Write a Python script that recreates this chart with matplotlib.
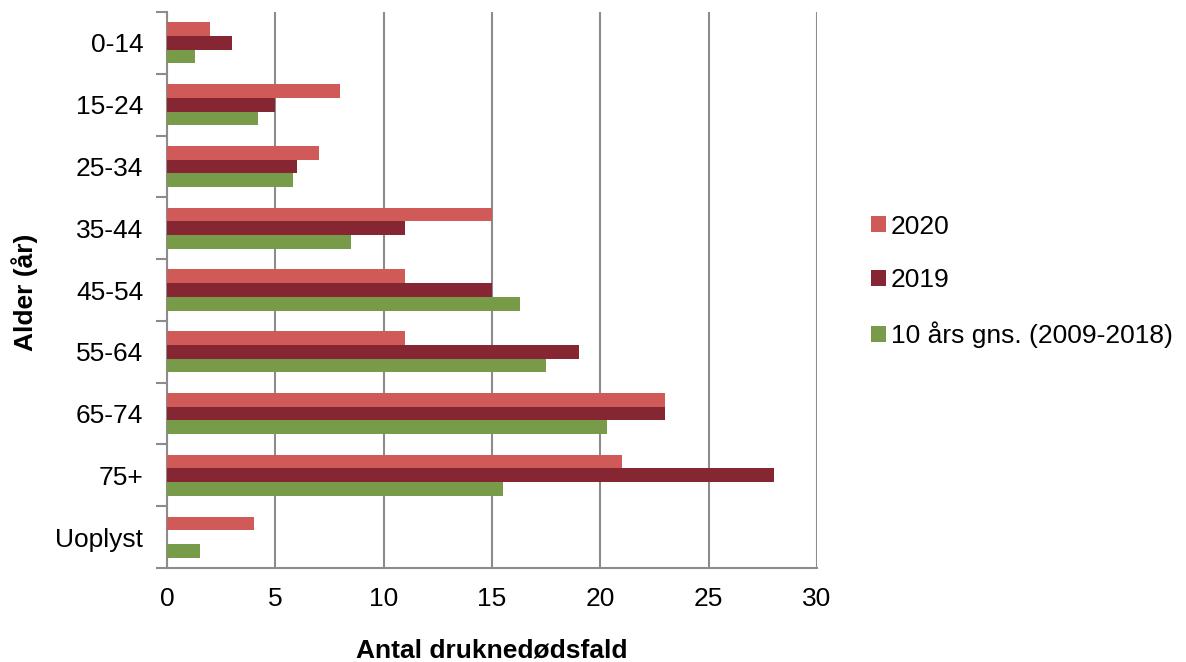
import numpy as np
import matplotlib.pyplot as plt

plt.rcParams['font.family'] = ['Liberation Sans', 'DejaVu Sans']

# data
aldersgrupper = ["0-14", "15-24", "25-34", "35-44", "45-54", "55-64", "65-74", "75+", "Uoplyst"]
v2020 = [2, 8, 7, 15, 11, 11, 23, 21, 4]
v2019 = [3, 5, 6, 11, 15, 19, 23, 28, 0]
gns_10aar = [1.3, 4.2, 5.8, 8.5, 16.3, 17.5, 20.3, 15.5, 1.5]
serie_navne = ["2020", "2019", "10 års gns. (2009-2018)"]
farver = ["#D05A57", "#862633", "#779B48"]

fs = 19
grid_col = "#8C8C8C"

fig = plt.figure(figsize=(11.86, 6.62), dpi=100)
ax = fig.add_axes([167/1186, 1 - 568/662, 650/1186, 556/662])

y = np.arange(len(aldersgrupper))
h = 0.222
for i, (vals, navn, c) in enumerate(zip([v2020, v2019, gns_10aar], serie_navne, farver)):
    ax.barh(y + (i - 1) * h, vals, height=h, color=c, label=navn, zorder=3)

ax.set_xlim(0, 30)
ax.set_ylim(len(aldersgrupper) - 0.5, -0.5)
ax.set_xticks(np.arange(0, 31, 5))
ax.tick_params(axis='x', length=0, pad=14, labelsize=fs)

# kategori-grænser som ticks, labels i midten
ax.set_yticks(np.arange(-0.5, len(aldersgrupper)), labels=[])
ax.set_yticks(y, labels=aldersgrupper, minor=True)
ax.tick_params(axis='y', which='major', length=8, width=1.5, color=grid_col)
ax.tick_params(axis='y', which='minor', length=0, pad=17, labelsize=fs)

ax.grid(axis='x', color=grid_col, linewidth=1.5, zorder=0)
for s in ['top', 'right']:
    ax.spines[s].set_visible(False)
for s in ['left', 'bottom']:
    ax.spines[s].set_color(grid_col)
    ax.spines[s].set_linewidth(1.5)

fig.text(492/1186, 1 - 650/662, "Antal druknedødsfald", fontsize=fs,
         fontweight='bold', ha='center', va='center')
fig.text(25/1186, 1 - 292/662, "Alder (år)", fontsize=fs, fontweight='bold',
         ha='center', va='center', rotation=90)

fig.legend(loc='center left', bbox_to_anchor=(871/1186, 1 - 281.5/662),
           frameon=False, fontsize=fs, handlelength=0.55, handleheight=0.55,
           handletextpad=0.2, labelspacing=1.12, borderpad=0, borderaxespad=0)

fig.savefig("out.png", dpi=100)
